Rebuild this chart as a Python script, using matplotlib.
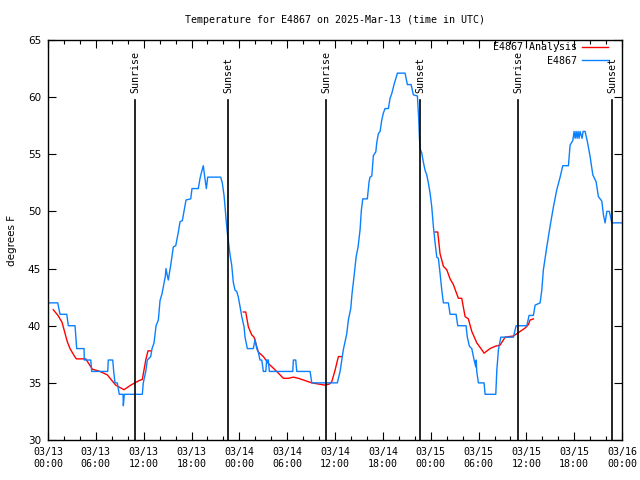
import numpy as np
import matplotlib
matplotlib.use("Agg")
import matplotlib.pyplot as plt
from matplotlib.ticker import MultipleLocator, FixedLocator


# hours since 03/13 00:00 UTC
obs_hours = [0.00, 0.04, 1.22, 1.51, 2.35, 2.55, 3.39, 3.60, 4.52, 4.55, 5.36, 5.48, 7.49, 7.56,
             8.12, 8.24, 8.40, 8.69, 8.94, 9.41, 9.45, 9.57, 11.83, 11.95, 12.26, 12.46, 12.88,
             13.05, 13.30, 13.55, 13.84, 14.05, 14.30, 14.55, 14.71, 14.80, 14.93, 15.09, 15.39,
             15.72, 16.02, 16.35, 16.56, 16.85, 17.06, 17.31, 17.90, 18.06, 18.85, 19.07, 19.28,
             19.48, 19.66, 19.86, 20.03, 21.66, 21.86, 22.08, 22.29, 22.45, 22.62, 22.83, 23.04,
             23.24, 23.46, 23.67, 23.87, 24.08, 24.30, 24.59, 24.71, 25.00, 25.75, 25.97, 26.18,
             26.38, 26.59, 26.81, 27.01, 27.31, 27.43, 27.63, 27.76, 30.70, 30.77, 31.07, 31.20,
             32.87, 33.08, 36.29, 36.63, 37.04, 37.47, 37.67, 37.97, 38.13, 38.38, 38.64, 38.89,
             39.14, 39.30, 39.48, 40.05, 40.27, 40.39, 40.61, 40.81, 41.11, 41.23, 41.43, 41.65,
             41.86, 42.06, 42.27, 42.69, 42.90, 43.11, 43.40, 43.82, 44.78, 45.07, 45.54, 45.82,
             46.33, 46.50, 46.58, 46.66, 46.88, 47.08, 47.29, 47.50, 47.70, 47.92, 48.13, 48.33,
             48.54, 48.76, 48.96, 49.17, 49.39, 49.59, 50.21, 50.43, 51.18, 51.39, 52.43, 52.59,
             52.85, 53.15, 53.44, 53.65, 53.71, 53.77, 53.98, 54.69, 54.82, 56.16, 56.29, 56.49,
             56.79, 58.37, 58.71, 60.05, 60.34, 60.88, 61.09, 61.72, 61.93, 62.13, 62.56, 62.97,
             63.39, 63.81, 64.23, 64.56, 65.27, 65.48, 65.82, 65.98, 66.11, 66.23, 66.36, 66.48,
             66.61, 66.73, 66.98, 67.11, 67.36, 67.65, 67.99, 68.33, 68.74, 69.03, 69.46, 69.66,
             69.87, 70.09, 70.41, 70.71, 72.00]
obs_temps = [43, 42, 42, 41, 41, 40, 40, 38, 38, 37, 37, 36, 36, 37,
             37, 36, 35, 35, 34, 34, 33, 34, 34, 35, 36, 37, 37.3,
             38, 38.5, 40, 40.5, 42.2, 42.8, 43.7, 44.3, 45, 44.5, 44, 45.3,
             46.9, 47, 48.2, 49.1, 49.2, 50, 51, 51.1, 52, 52, 52.9, 53.5,
             54, 53, 52, 53, 53, 52.5, 51.4, 49.7, 48.4, 47.4, 46.2, 45.3,
             43.8, 43.1, 43, 42.5, 41.7, 40.8, 39.9, 39, 38, 38, 38.8, 38,
             37.7, 37, 37, 36, 36, 37, 37, 36, 36, 37, 37, 36,
             36, 35, 35, 36, 37.9, 39.3, 40.5, 41.5, 42.8, 44.3, 46, 46.9,
             48.4, 50.1, 51.1, 51.1, 52.6, 53, 53.1, 54.9, 55.2, 56, 56.8, 57,
             58, 58.6, 59, 59, 59.9, 60.3, 61.1, 62.1, 62.1, 61.1, 61.1, 60.2,
             60.1, 58, 56.5, 55.5, 55.1, 54.3, 53.6, 53.2, 52.5, 51.6, 50.4, 48.7,
             47.3, 46, 45.9, 44.6, 43.1, 42, 42, 41, 41, 40, 40, 39,
             38.2, 38, 37, 36.4, 37, 36, 35, 35, 34, 34, 36.1, 37.9,
             39, 39, 40, 40, 40.9, 40.9, 41.8, 42, 43.1, 44.9, 46.9, 48.7,
             50.4, 51.9, 53, 54, 54, 55.8, 56.2, 57, 56.4, 57, 56.4, 57,
             56.4, 57, 56.4, 57, 57, 56.1, 54.8, 53.2, 52.6, 51.3, 50.9, 49.7,
             49, 50, 50, 49, 49]

# analysis runs (three separate pieces)
ana1_hours = [0.66, 1.25, 1.76, 2.42, 2.76, 3.26, 3.55, 4.73, 5.56, 6.52, 7.44, 8.49, 9.53,
              10.37, 11.42, 11.83, 12.26, 12.54, 12.88]
ana1_temps = [41.4, 40.9, 40.3, 38.6, 38.0, 37.4, 37.1, 37.1, 36.2, 36.0, 35.7, 34.8, 34.4,
              34.8, 35.2, 35.3, 37.0, 37.8, 37.8]
ana2_hours = [24.50, 24.80, 25.13, 25.55, 25.84, 26.38, 27.01, 27.63, 28.69, 29.52, 30.14,
              30.77, 31.40, 32.24, 33.08, 33.91, 34.75, 35.29, 35.59, 36.00, 36.42, 36.84]
ana2_temps = [41.2, 41.2, 39.9, 39.2, 39.0, 37.7, 37.3, 36.7, 36.0, 35.4, 35.4,
              35.5, 35.4, 35.2, 35.0, 34.9, 34.8, 34.9, 35.1, 36.1, 37.3, 37.3]
ana3_hours = [48.54, 48.88, 49.17, 49.59, 50.01, 50.43, 50.84, 51.47, 51.89, 52.31, 52.72,
              53.15, 53.78, 54.40, 54.69, 55.44, 56.07, 56.70, 57.33, 58.37, 59.21, 59.84,
              60.25, 60.46, 60.88]
ana3_temps = [48.2, 48.2, 46.3, 45.2, 44.9, 44.1, 43.6, 42.4, 42.4, 40.8, 40.6,
              39.5, 38.5, 37.9, 37.6, 38.0, 38.2, 38.3, 39.0, 39.1, 39.5, 39.8,
              40.1, 40.5, 40.6]

sun_hours = [10.91, 22.58, 34.87, 46.66, 58.96, 70.75]
sun_names = ["Sunrise", "Sunset", "Sunrise", "Sunset", "Sunrise", "Sunset"]

xtick_hours = [0, 6, 12, 18, 24, 30, 36, 42, 48, 54, 60, 66, 72]
xtick_labels = ["03/13\n00:00", "03/13\n06:00", "03/13\n12:00", "03/13\n18:00",
                "03/14\n00:00", "03/14\n06:00", "03/14\n12:00", "03/14\n18:00",
                "03/15\n00:00", "03/15\n06:00", "03/15\n12:00", "03/15\n18:00",
                "03/16\n00:00"]

mono = "DejaVu Sans Mono"
red = "#ff0000"
blue = "#0a80ff"

fig = plt.figure(figsize=(6.4, 4.8), dpi=100)
ax = fig.add_axes([0.075, 0.0833, 0.897, 0.8334])

ax.plot(ana1_hours, ana1_temps, color=red, lw=1.0, label="E4867 Analysis")
ax.plot(ana2_hours, ana2_temps, color=red, lw=1.0)
ax.plot(ana3_hours, ana3_temps, color=red, lw=1.0)
ax.plot(obs_hours, obs_temps, color=blue, lw=1.0, label="E4867")

for h, name in zip(sun_hours, sun_names):
    ax.plot([h, h], [30, 59.75], color="black", lw=1.2)
    ax.text(h, 60.4, name, rotation=90, ha="center", va="bottom",
            fontsize=7.2, family=mono)

ax.set_xlim(0, 72)
ax.set_ylim(30, 65)
ax.xaxis.set_major_locator(FixedLocator(xtick_hours))
ax.set_xticklabels(xtick_labels, family=mono, fontsize=7.2)
ax.xaxis.set_minor_locator(MultipleLocator(2))
ax.yaxis.set_major_locator(MultipleLocator(5))
for lab in ax.get_yticklabels():
    lab.set_fontsize(7.5)
ax.tick_params(which="both", direction="in", top=True, right=True, width=0.8)
ax.tick_params(which="major", length=6, pad=5)
ax.tick_params(which="minor", length=3)
for s in ax.spines.values():
    s.set_linewidth(1.0)

ax.set_ylabel("degrees F", fontsize=7.5, labelpad=8)
ax.set_title("Temperature for E4867 on 2025-Mar-13 (time in UTC)",
             family=mono, fontsize=7.2, pad=12)

leg = ax.legend(loc="upper right", bbox_to_anchor=(0.983, 1.004), frameon=False,
                markerfirst=False, prop={"family": mono, "size": 7.2}, handlelength=2.6,
                labelspacing=0.35, borderaxespad=0.0, handletextpad=0.5)

fig.savefig("out.png", dpi=100)
